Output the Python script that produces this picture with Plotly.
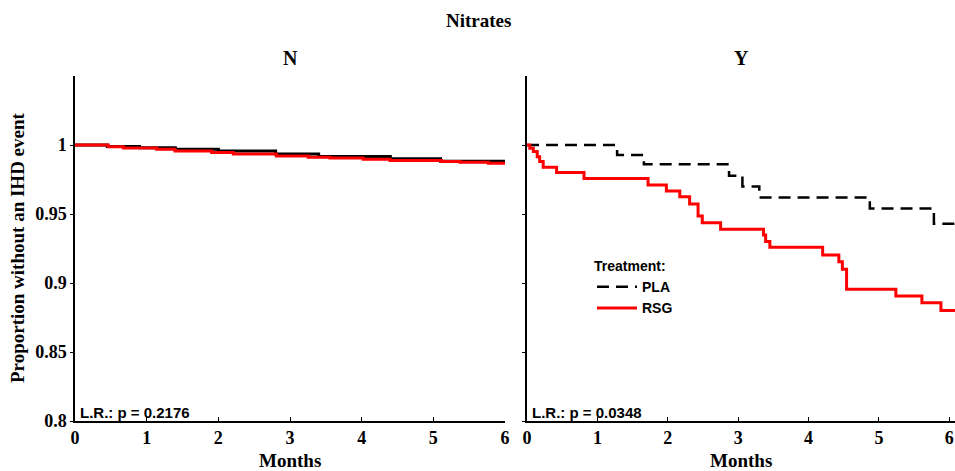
import plotly.graph_objects as go

# Kaplan-Meier step curves: time in months and survival proportion at each step
n_pla_t = [0, 0.45, 0.90, 1.40, 2.00, 2.80, 3.40, 4.40, 5.10, 6.0]
n_pla_s = [1.0, 0.9990, 0.9980, 0.9969, 0.9956, 0.9934, 0.9916, 0.9900, 0.9882, 0.9878]
n_rsg_t = [0, 0.465, 0.674, 1.14, 1.395, 1.907, 2.209, 2.81, 3.256, 3.558, 4.02, 4.395, 5.116, 5.372, 5.767, 6.0]
n_rsg_s = [1.0, 0.9988, 0.9978, 0.9969, 0.9957, 0.9945, 0.9935, 0.9920, 0.9911, 0.9906, 0.9897, 0.9887, 0.9880, 0.9875, 0.9868, 0.9868]

y_pla_t = [0, 1.28, 1.66, 2.87, 3.06, 3.30, 4.87, 5.78, 6.08]
y_pla_s = [1.0, 0.9928, 0.986, 0.9778, 0.970, 0.962, 0.954, 0.943, 0.943]
y_rsg_t = [0, 0.04, 0.09, 0.145, 0.18, 0.23, 0.42, 0.81, 1.72, 1.98, 2.17, 2.31, 2.43, 2.49,
           2.75, 3.36, 3.39, 3.45, 4.20, 4.43, 4.48, 4.54, 5.24, 5.61, 5.88, 6.08]
y_rsg_s = [1.0, 0.9976, 0.9952, 0.9915, 0.988, 0.9838, 0.980, 0.9758, 0.971, 0.9667, 0.9625, 0.9572,
           0.9486, 0.9437, 0.9389, 0.9348, 0.930, 0.9259, 0.9203, 0.9154, 0.9099, 0.8954, 0.8906,
           0.8857, 0.880, 0.880]

y_ticks = [0.8, 0.85, 0.9, 0.95, 1.0]
y_tick_text = ["0.8", "0.85", "0.9", "0.95", "1"]
x_ticks = [0, 1, 2, 3, 4, 5, 6]
p_values = ["L.R.: p = 0.2176", "L.R.: p = 0.0348"]
panel_titles = ["N", "Y"]

W, H = 955, 471
SERIF = "Liberation Serif"
SANS = "Liberation Sans"
PLA_STYLE = dict(color="black", width=2.5, dash="12px,7px")
RSG_STYLE = dict(color="#ff0000", width=3)

fig = go.Figure()
fig.add_trace(go.Scatter(x=n_pla_t, y=n_pla_s, mode="lines", line=dict(color="black", width=3),
                         line_shape="hv", xaxis="x", yaxis="y", showlegend=False))
fig.add_trace(go.Scatter(x=n_rsg_t, y=n_rsg_s, mode="lines", line=RSG_STYLE,
                         line_shape="hv", xaxis="x", yaxis="y", showlegend=False))
fig.add_trace(go.Scatter(x=y_pla_t, y=y_pla_s, mode="lines", line=PLA_STYLE, name="<b>PLA</b>",
                         line_shape="hv", xaxis="x2", yaxis="y2"))
fig.add_trace(go.Scatter(x=y_rsg_t, y=y_rsg_s, mode="lines", line=RSG_STYLE, name="<b>RSG</b>",
                         line_shape="hv", xaxis="x2", yaxis="y2"))

def px_x(p):
    return p / W

def px_y(p):
    return 1 - p / H

left_dom = [px_x(75), px_x(505)]
right_dom = [px_x(527), 1.0]
y_dom = [px_y(421), px_y(76)]

tick_font = dict(family=SERIF, size=18, color="black", weight="bold")
xaxis_common = dict(tickvals=x_ticks, ticks="inside", ticklen=4, tickwidth=1,
                    tickcolor="black", showline=True, linecolor="black", linewidth=1.5,
                    showgrid=False, zeroline=False, automargin=False, tickfont=tick_font,
                    ticklabeloverflow="allow")
yaxis_common = dict(range=[0.8, 1.05], tickvals=y_ticks, ticks="outside", ticklen=3, tickwidth=1,
                    tickcolor="black", showline=True, linecolor="black", linewidth=1.5,
                    showgrid=False, zeroline=False, automargin=False, domain=y_dom)

fig.update_layout(
    width=W, height=H,
    margin=dict(l=0, r=0, t=0, b=0, autoexpand=False),
    paper_bgcolor="white", plot_bgcolor="white",
    xaxis=dict(xaxis_common, range=[0, 6], domain=left_dom, anchor="y"),
    yaxis=dict(yaxis_common, anchor="x", ticktext=y_tick_text, showticklabels=True,
               tickfont=tick_font),
    xaxis2=dict(xaxis_common, range=[0, 6.08], domain=right_dom, anchor="y2"),
    yaxis2=dict(yaxis_common, anchor="x2", showticklabels=False),
    showlegend=True,
    legend=dict(x=px_x(592), y=px_y(253), xanchor="left", yanchor="top",
                bgcolor="rgba(0,0,0,0)", tracegroupgap=0, itemwidth=40,
                title=dict(text="<b>Treatment:</b>", font=dict(family=SANS, size=14, color="black")),
                font=dict(family=SANS, size=14, color="black")),
)

annotations = [
    dict(text="<b>Nitrates</b>", x=px_x(478), y=px_y(21), font=dict(family=SERIF, size=19)),
    dict(text=f"<b>{panel_titles[0]}</b>", x=sum(left_dom) / 2, y=px_y(58), font=dict(family=SERIF, size=20)),
    dict(text=f"<b>{panel_titles[1]}</b>", x=px_x(741), y=px_y(58), font=dict(family=SERIF, size=20)),
    dict(text="<b>Months</b>", x=sum(left_dom) / 2, y=px_y(460), font=dict(family=SERIF, size=19)),
    dict(text="<b>Months</b>", x=px_x(741), y=px_y(460), font=dict(family=SERIF, size=19)),
    dict(text="<b>Proportion without an IHD event</b>", x=px_x(17), y=px_y(248), textangle=-90,
         font=dict(family=SERIF, size=19)),
    dict(text=f"<b>{p_values[0]}</b>", x=px_x(78), y=px_y(412), xanchor="left",
         font=dict(family=SANS, size=15)),
    dict(text=f"<b>{p_values[1]}</b>", x=px_x(530), y=px_y(412), xanchor="left",
         font=dict(family=SANS, size=15)),
]
for a in annotations:
    a.setdefault("xanchor", "center")
    a.update(xref="paper", yref="paper", yanchor="middle", showarrow=False)
    a["font"].setdefault("color", "black")
    fig.add_annotation(**a)

fig.write_html("out.html")
